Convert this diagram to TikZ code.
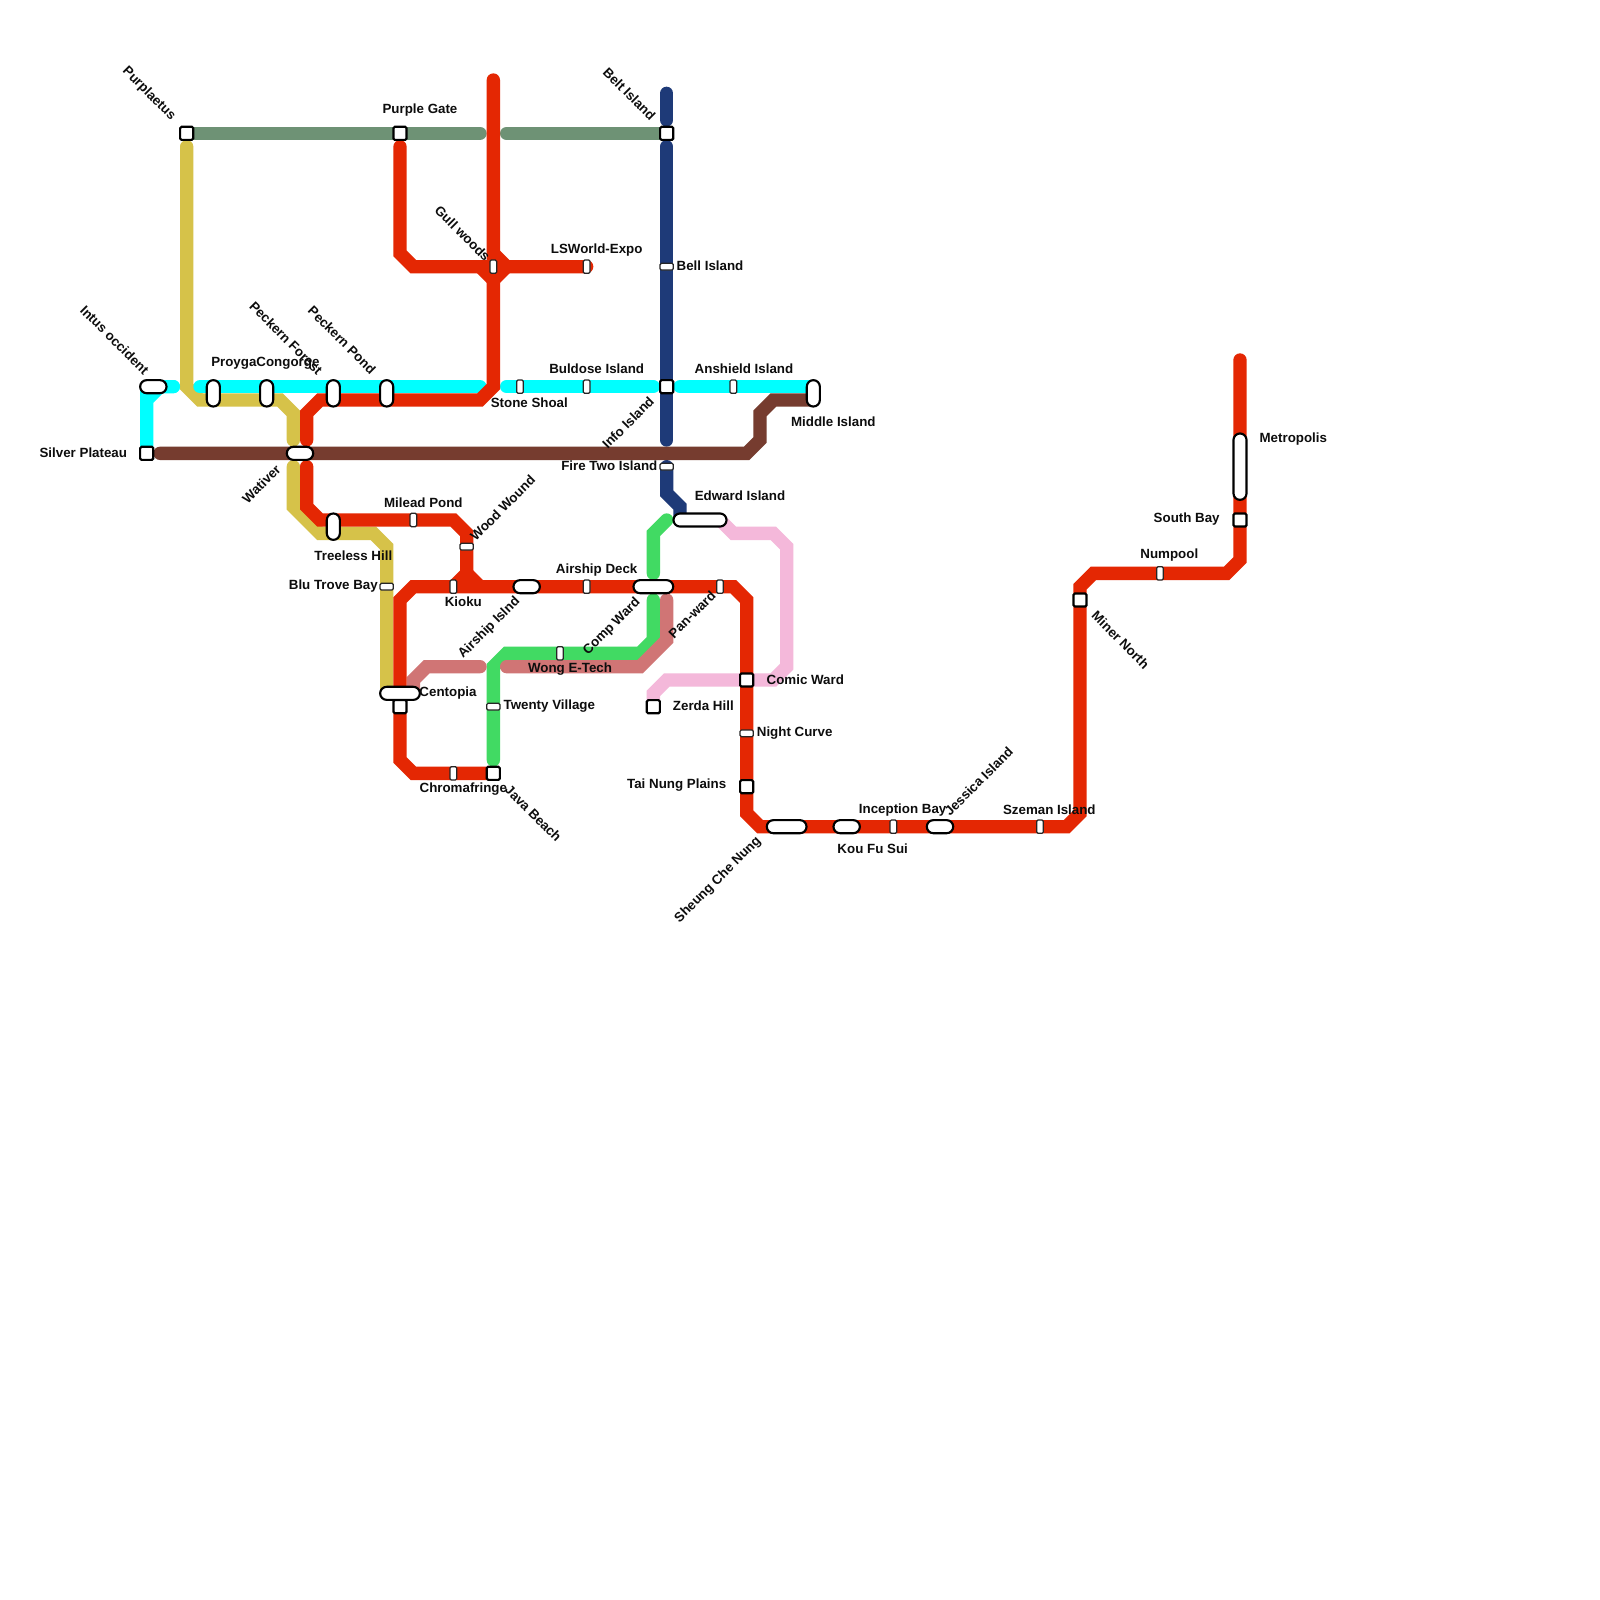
\documentclass[tikz,border=0pt]{standalone}
\usepackage{fontspec}
\setmainfont{Liberation Sans}
\usetikzlibrary{backgrounds}
\definecolor{cgrey}{HTML}{6E9275}
\definecolor{cyanl}{HTML}{00FFFF}
\definecolor{navy}{HTML}{1E3A78}
\definecolor{yel}{HTML}{D6C249}
\definecolor{redl}{HTML}{E42703}
\definecolor{brownl}{HTML}{763C2F}
\definecolor{greenl}{HTML}{41DA63}
\definecolor{rosel}{HTML}{D07575}
\definecolor{pinkl}{HTML}{F4B8DA}
\tikzset{
  lineway/.style={line width=10pt,line cap=round,line join=miter,miter limit=4},
  sq/.style={draw=black,fill=white,line width=1.6pt,rounded corners=1pt,minimum width=9.8pt,minimum height=9.8pt,inner sep=0pt,outer sep=0pt},
  tick/.style={draw=black!85,fill=white,line width=0.9pt,rounded corners=1pt,minimum width=5pt,minimum height=10pt,inner sep=0pt,outer sep=0pt},
  tickh/.style={draw=black!85,fill=white,line width=0.9pt,rounded corners=1pt,minimum width=10pt,minimum height=5pt,inner sep=0pt,outer sep=0pt},
  pillh/.style={draw=black,fill=white,line width=1.6pt,rounded corners=4.9pt,minimum height=9.8pt,inner sep=0pt,outer sep=0pt,minimum width=#1*10pt+9.8pt},
  pillv/.style={draw=black,fill=white,line width=1.6pt,rounded corners=4.9pt,minimum width=9.8pt,inner sep=0pt,outer sep=0pt,minimum height=#1*10pt+9.8pt},
  lab/.style={font=\bfseries\fontsize{10pt}{12pt}\selectfont,inner sep=0pt,text=black!95,yshift=-0.6pt},
  ldn/.style={font=\bfseries\fontsize{10pt}{12pt}\selectfont,inner sep=0pt,text=black!95,rotate=-45},
  lup/.style={font=\bfseries\fontsize{10pt}{12pt}\selectfont,inner sep=0pt,text=black!95,rotate=45}
}
\begin{document}
\begin{tikzpicture}[x=10pt,y=-10pt]
\useasboundingbox (0,0) rectangle (120,120);
% stations
\node[sq] (purplaetus) at (14,10) {};
\node[sq] (purplegate) at (30,10) {};
\node[sq] (beltisland) at (50,10) {};
\node[tick] (gullwoods) at (37,20) {};
\node[tick] (lsworld) at (44,20) {};
\node[tickh] (bellisland) at (50,20) {};
\node[pillh=1] (intus) at (11.5,29) {};
\node[sq] (silver) at (11,34) {};
\node[pillv=1] (proyga) at (16,29.5) {};
\node[pillv=1] (congorgst) at (20,29.5) {};
\node[pillv=1] (forest) at (25,29.5) {};
\node[pillv=1] (pond) at (29,29.5) {};
\node[tick] (stone) at (39,29) {};
\node[tick] (buldose) at (44,29) {};
\node[sq] (info) at (50,29) {};
\node[tick] (anshield) at (55,29) {};
\node[pillv=1] (middle) at (61,29.5) {};
\node[pillh=1] (wativer) at (22.5,34) {};
\node[tickh] (firetwo) at (50,35) {};
\node[pillh=3] (edward) at (52.5,39) {};
\node[pillv=1] (treeless) at (25,39.5) {};
\node[tick] (milead) at (31,39) {};
\node[tickh] (wood) at (35,41) {};
\node[tickh] (blu) at (29,44) {};
\node[tick] (kioku) at (34,44) {};
\node[pillh=1] (airshipi) at (39.5,44) {};
\node[tick] (airshipd) at (44,44) {};
\node[pillh=2] (comp) at (49,44) {};
\node[tick] (panward) at (54,44) {};
\node[tick] (wong) at (42,49) {};
\node[sq] (unnamed) at (30,53) {};
\node[pillh=2] (centopia) at (30,52) {};
\node[sq] (comic) at (56,51) {};
\node[sq] (zerda) at (49,53) {};
\node[tickh] (twenty) at (37,53) {};
\node[tickh] (night) at (56,55) {};
\node[sq] (tainung) at (56,59) {};
\node[tick] (chroma) at (34,58) {};
\node[sq] (java) at (37,58) {};
\node[pillh=2] (sheung) at (59,62) {};
\node[pillh=1] (koufu) at (63.5,62) {};
\node[tick] (inception) at (67,62) {};
\node[pillh=1] (jessica) at (70.5,62) {};
\node[tick] (szeman) at (78,62) {};
\node[sq] (miner) at (81,45) {};
\node[tick] (numpool) at (87,43) {};
\node[sq] (southbay) at (93,39) {};
\node[pillv=4] (metropolis) at (93,35) {};
% free line ends
\coordinate (gw) at (36,10); \coordinate (ge) at (38,10);
\coordinate (nt) at (50,7); \coordinate (nu) at (50,9); \coordinate (nv) at (50,11); \coordinate (nw) at (50,33);
\coordinate (ce) at (13,29); \coordinate (cs) at (15,29); \coordinate (cm) at (36,29); \coordinate (cn) at (38,29); \coordinate (co) at (49,29); \coordinate (cp) at (51,29);
\coordinate (ya) at (14,11); \coordinate (yb) at (22,33); \coordinate (yc) at (22,35);
\coordinate (ra) at (37,6); \coordinate (rb) at (23,33); \coordinate (rc) at (23,35); \coordinate (rd) at (93,27); \coordinate (re) at (30,11);
\coordinate (ba) at (12,34);
\coordinate (ga) at (49,43); \coordinate (gb) at (49,45); \coordinate (gc) at (37,57);
\coordinate (ka) at (50,45); \coordinate (kb) at (38,50); \coordinate (kc) at (36,50);
\coordinate (pe) at (54,39);
\begin{scope}[on background layer]
\fill[white] (0,0) rectangle (120,120);
% pink
\draw[lineway,pinkl] (pe) -- (55,40) -- (58,40) -- (59,41) -- (59,50) -- (58,51) -- (50,51) -- (49,52) -- (zerda.center);
% grey
\draw[lineway,cgrey] (purplaetus.center) -- (gw);
\draw[lineway,cgrey] (ge) -- (beltisland.center);
% yellow
\draw[lineway,yel] (ya) -- (14,29) -- (15,30) -- (21,30) -- (22,31) -- (yb);
\draw[lineway,yel] (yc) -- (22,38) -- (24,40) -- (28,40) -- (29,41) -- (centopia.center -| blu.center);
% cyan
\draw[lineway,cyanl] (silver.center) -- (11,30) -- (12,29) -- (ce);
\draw[lineway,cyanl,line cap=butt] (silver.center) -- (11,29);
\draw[lineway,cyanl] (intus.center) -- (ce);
\draw[lineway,cyanl] (cs) -- (cm);
\draw[lineway,cyanl] (cn) -- (co);
\draw[lineway,cyanl] (cp) -- (61,29);
% navy
\draw[lineway,navy] (nt) -- (nu);
\draw[lineway,navy] (nv) -- (nw);
\draw[lineway,navy] (firetwo.center) -- (50,37) -- (51,38) -- (51,39);
% green
\draw[lineway,greenl] (50,39) -- (49,40) -- (ga);
\draw[lineway,greenl] (gb) -- (49,48) -- (48,49) -- (38,49) -- (37,50) -- (gc);
% rose
\draw[lineway,rosel] (ka) -- (50,48) -- (48,50) -- (kb);
\draw[lineway,rosel] (kc) -- (32,50) -- (31,51) -- (31,52);
% brown
\draw[lineway,brownl] (ba) -- (56,34) -- (57,33) -- (57,31) -- (58,30) -- (61,30);
% red
\draw[lineway,redl] (ra) -- (37,29) -- (36,30) -- (24,30) -- (23,31) -- (rb);
\draw[lineway,redl] (re) -- (30,19) -- (31,20) -- (lsworld.center);
\draw[lineway,redl,line cap=butt] (37,19) -- (38,20) -- (37,21) -- (36,20);
\draw[lineway,redl] (rc) -- (23,38) -- (24,39) -- (34,39) -- (35,40) -- (35,43) -- (34,44);
\draw[lineway,redl,line cap=butt] (35,43) -- (36,44);
\draw[lineway,redl] (java.center) -- (31,58) -- (30,57) -- (30,45) -- (31,44) -- (55,44) -- (56,45) -- (56,61) -- (57,62) -- (80,62) -- (81,61) -- (81,44) -- (82,43) -- (92,43) -- (93,42) -- (rd);
\end{scope}
% labels
\node[ldn] (l1) at (11.17,7.04) {Purplaetus};
\node[lab] (l2) at (31.5,8.2) {Purple Gate};
\node[ldn] (l3) at (34.7,17.5) {Gull woods};
\node[lab] (l4) at (44.75,18.7) {LSWorld-Expo};
\node[ldn] (l5) at (47.2,7.05) {Belt Island};
\node[lab] (l6) at (53.25,19.9) {Bell Island};
\node[ldn] (l7) at (8.6,25.5) {Intus occident};
\node[lab] (l8) at (19.9,27.2) {ProygaCongorge};
\node[ldn] (l9) at (21.45,25.35) {Peckern Forest};
\node[ldn] (l10) at (25.65,25.5) {Peckern Pond};
\node[lab] (l11) at (44.75,27.6) {Buldose Island};
\node[lab] (l12) at (55.8,27.6) {Anshield Island};
\node[lab] (l13) at (39.7,30.15) {Stone Shoal};
\node[lab] (l14) at (62.5,31.6) {Middle Island};
\node[lab] (l15) at (6.25,33.9) {Silver Plateau};
\node[lup] (l16) at (47.1,31.7) {Info Island};
\node[lab] (l17) at (45.7,34.9) {Fire Two Island};
\node[lup] (l18) at (19.6,36.3) {Wativer};
\node[lab] (l19) at (97,32.9) {Metropolis};
\node[lab] (l20) at (55.5,37.1) {Edward Island};
\node[lab] (l21) at (31.75,37.65) {Milead Pond};
\node[lup] (l22) at (37.7,38.1) {Wood Wound};
\node[lab] (l23) at (89,38.9) {South Bay};
\node[lab] (l24) at (87.7,41.6) {Numpool};
\node[lab] (l25) at (26.5,41.6) {Treeless Hill};
\node[lab] (l26) at (25,43.9) {Blu Trove Bay};
\node[lab] (l27) at (44.75,42.7) {Airship Deck};
\node[lab] (l28) at (34.75,45.1) {Kioku};
\node[lup] (l29) at (36.7,47.1) {Airship Islnd};
\node[lup] (l30) at (45.9,47) {Comp Ward};
\node[lup] (l31) at (51.9,46.1) {Pan-ward};
\node[ldn] (l32) at (84.05,48) {Miner North};
\node[lab] (l33) at (42.75,50.1) {Wong E-Tech};
\node[lab] (l34) at (60.4,50.9) {Comic Ward};
\node[lab] (l35) at (33.6,51.9) {Centopia};
\node[lab] (l36) at (52.75,52.9) {Zerda Hill};
\node[lab] (l37) at (41.2,52.9) {Twenty Village};
\node[lab] (l38) at (59.6,54.9) {Night Curve};
\node[lab] (l39) at (50.75,58.8) {Tai Nung Plains};
\node[lab] (l40) at (34.75,59.1) {Chromafringe};
\node[ldn] (l41) at (40,61) {Java Beach};
\node[lup] (l42) at (73.4,58.6) {Jessica Island};
\node[lab] (l43) at (67.7,60.7) {Inception Bay};
\node[lab] (l44) at (78.7,60.7) {Szeman Island};
\node[lab] (l45) at (65.45,63.6) {Kou Fu Sui};
\node[lup] (l46) at (53.85,66) {Sheung Che Nung};
\end{tikzpicture}
\end{document}
